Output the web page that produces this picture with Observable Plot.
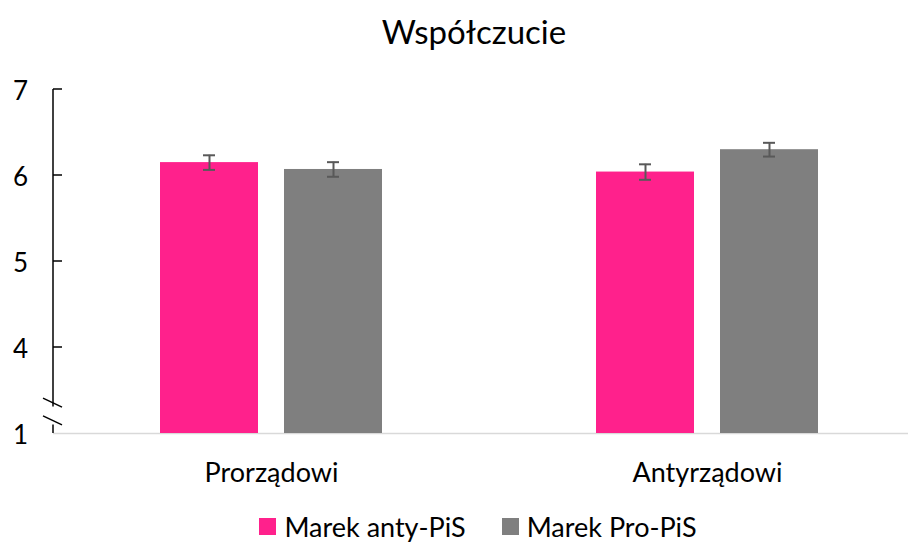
<!DOCTYPE html>
<html>
<head>
<meta charset="utf-8">
<script src="https://cdn.jsdelivr.net/npm/d3@7"></script>
<script src="https://cdn.jsdelivr.net/npm/@observablehq/plot@0.6"></script>
<style>
  body { margin: 0; background: #fff; font-family: Lato, "Open Sans", sans-serif; }
  #chart svg { display: block; }
  #legend { height: 43px; display: flex; justify-content: center; align-items: center; padding-left: 46px; padding-top: 10px; box-sizing: border-box; }
  .item { display: flex; align-items: center; margin: 0 18px; font-size: 27px; color: #000; line-height: 1; }
  .swatch { width: 17px; height: 17px; margin-right: 8px; }
</style>
</head>
<body>
<div id="chart"></div>
<div id="legend"></div>
<script>
const titleText = "Współczucie";
const categories = ["Prorządowi", "Antyrządowi"];
const seriesNames = ["Marek anty-PiS", "Marek Pro-PiS"];
const seriesColors = ["#FF218C", "#7F7F7F"];
const antyValues = [6.15, 6.04];
const proValues = [6.07, 6.30];
const antyErr = [0.085, 0.09];
const proErr = [0.085, 0.08];
const yTicks = [1, 4, 5, 6, 7];
const yBreakUpper = 2.06;
const yBreakLower = 1.44;

const seriesValues = [antyValues, proValues];
const seriesErrs = [antyErr, proErr];
const rows = seriesNames.map((s, si) => categories.map((c, ci) => ({
  category: c, series: s, value: seriesValues[si][ci], err: seriesErrs[si][ci]
})));

const FONT = "Lato, 'Open Sans', sans-serif";
const barStyles = [
  {insetLeft: 107, insetRight: 231, dx: -62, capL: 150, capR: 274},
  {insetLeft: 231, insetRight: 107, dx: 62, capL: 274, capR: 150}
];

function yAxisMark(index, scales, values, dims) {
  const y = scales.y;
  const x0 = dims.marginLeft;
  const g = d3.create("svg:g").attr("stroke", "#000").attr("stroke-width", 1.5).attr("fill", "none");
  const yu = y(yBreakUpper), yl = y(yBreakLower);
  g.append("line").attr("x1", x0).attr("x2", x0).attr("y1", y(7)).attr("y2", yu + 4);
  g.append("line").attr("x1", x0).attr("x2", x0).attr("y1", yl + 4).attr("y2", y(1));
  for (const t of yTicks.filter(t => t !== 1)) {
    g.append("line").attr("x1", x0).attr("x2", x0 + 9).attr("y1", y(t)).attr("y2", y(t));
  }
  for (const b of [yu, yl]) {
    g.append("line").attr("x1", x0 - 10).attr("x2", x0 + 9).attr("y1", b - 4.5).attr("y2", b + 4.5);
  }
  return g.node();
}

const marks = [
  Plot.ruleY([1], {stroke: "#d9d9d9", strokeWidth: 1.5})
];
rows.forEach((data, si) => {
  const st = barStyles[si];
  marks.push(Plot.barY(data, {x: "category", y1: 1, y2: "value", fill: seriesColors[si], insetLeft: st.insetLeft, insetRight: st.insetRight}));
  marks.push(Plot.ruleX(data, {x: "category", y1: d => d.value - d.err, y2: d => d.value + d.err, dx: st.dx, stroke: "#595959", strokeWidth: 2}));
  marks.push(Plot.tickY(data, {x: "category", y: d => d.value - d.err, insetLeft: st.capL, insetRight: st.capR, stroke: "#595959", strokeWidth: 2}));
  marks.push(Plot.tickY(data, {x: "category", y: d => d.value + d.err, insetLeft: st.capL, insetRight: st.capR, stroke: "#595959", strokeWidth: 2}));
});
marks.push(yAxisMark);
marks.push(Plot.text(yTicks, {y: d => d, text: d => String(d), frameAnchor: "left", lineAnchor: "middle", dx: -33, dy: 2, textAnchor: "middle", fontSize: 26, fill: "#000"}));
marks.push(Plot.text(categories, {x: d => d, text: d => d, frameAnchor: "bottom", lineAnchor: "middle", dy: 40, fontSize: 27, fill: "#000"}));
marks.push(Plot.text([titleText], {text: d => d, frameAnchor: "top", lineAnchor: "middle", dy: -56, dx: -7, fontSize: 33, fill: "#000"}));

const plot = Plot.plot({
  width: 910, height: 500,
  marginTop: 89, marginBottom: 67, marginLeft: 53, marginRight: 2,
  x: {type: "band", domain: categories, range: [53, 925], padding: 0, axis: null},
  y: {type: "linear", domain: [1, 4, 7], range: [433, 347, 89], axis: null},
  style: {fontFamily: FONT, background: "white", overflow: "visible"},
  marks
});
document.getElementById("chart").appendChild(plot);

const legend = document.getElementById("legend");
seriesNames.forEach((s, i) => {
  const it = document.createElement("div");
  it.className = "item";
  const sw = document.createElement("div");
  sw.className = "swatch";
  sw.style.background = seriesColors[i];
  const tx = document.createElement("span");
  tx.textContent = s;
  it.appendChild(sw); it.appendChild(tx);
  legend.appendChild(it);
});
</script>
</body>
</html>
